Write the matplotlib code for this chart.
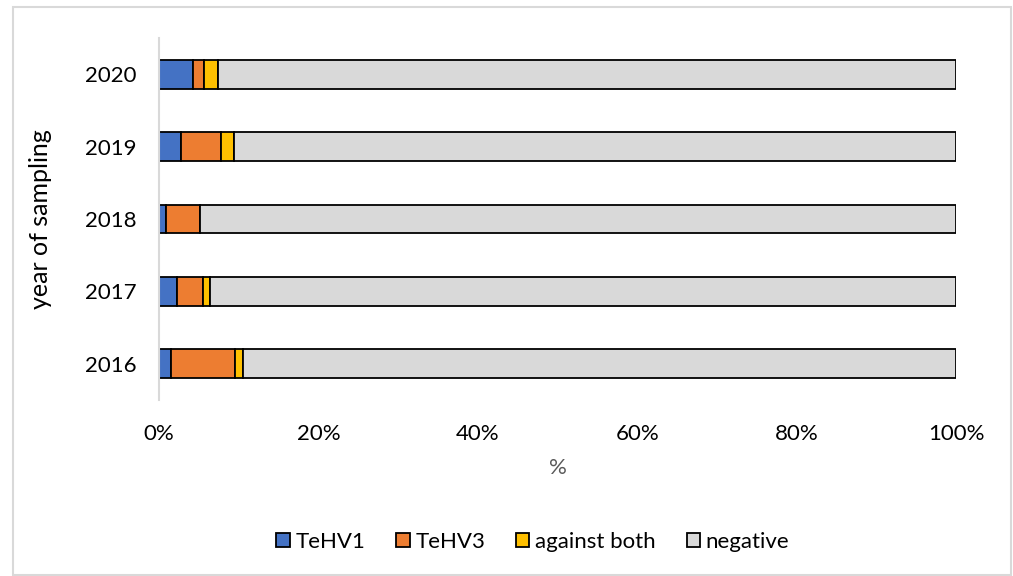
import matplotlib.pyplot as plt
from matplotlib.patches import Rectangle
import numpy as np

plt.rcParams['font.family'] = ['Lato', 'DejaVu Sans']

years = ['2016', '2017', '2018', '2019', '2020']
tehv1 = [1.5, 2.2, 0.9, 2.8, 4.3]
tehv3 = [8.0, 3.3, 4.3, 5.0, 1.35]
both = [1.05, 0.95, 0.0, 1.6, 1.75]
negative = [100 - a - b - c for a, b, c in zip(tehv1, tehv3, both)]

series = [
    ('TeHV1', tehv1, '#4472c4'),
    ('TeHV3', tehv3, '#ed7d31'),
    ('against both', both, '#ffc000'),
    ('negative', negative, '#d9d9d9'),
]

fig = plt.figure(figsize=(10.13, 5.76), dpi=100)
fig.patches.append(Rectangle((13 / 1013, 0.002), (1011 - 13) / 1013, 1 - 7 / 576 - 0.002,
                             transform=fig.transFigure, fill=False,
                             edgecolor='#d9d9d9', linewidth=1.5))

ax = fig.add_axes([159 / 1013, 1 - 400 / 576, (956 - 159) / 1013, (400 - 38) / 576])
y = np.arange(len(years))
left = np.zeros(len(years))
for name, vals, color in series:
    vals = np.array(vals)
    ax.barh(y, vals, left=left, height=0.4, color=color, edgecolor='black',
            linewidth=1.3, label=name)
    left += vals

ax.set_xlim(0, 100)
ax.set_ylim(-0.5, len(years) - 0.5)
ax.set_yticks(y)
ax.set_yticklabels(years, fontsize=16)
ax.set_xticks(np.arange(0, 101, 20))
ax.set_xticklabels([f'{v}%' for v in range(0, 101, 20)], fontsize=16)
ax.tick_params(axis='y', length=0, pad=16)
ax.tick_params(axis='x', length=0, pad=17)
for s in ['top', 'right', 'bottom']:
    ax.spines[s].set_visible(False)
ax.spines['left'].set_color('#d9d9d9')
ax.spines['left'].set_linewidth(1.5)
ax.set_xlabel('%', fontsize=16, color='#595959', labelpad=10)
ax.set_ylabel('year of sampling', fontsize=18, va='center')
ax.yaxis.set_label_coords(-0.149, 0.5)

handles, labels = ax.get_legend_handles_labels()
fig.legend(handles, labels, loc='center', bbox_to_anchor=(0.526, 1 - 542 / 576),
           ncol=4, frameon=False, fontsize=16, handlelength=0.6, handleheight=0.6,
           handletextpad=0.25, columnspacing=1.4)

fig.savefig('out.png', dpi=100)
